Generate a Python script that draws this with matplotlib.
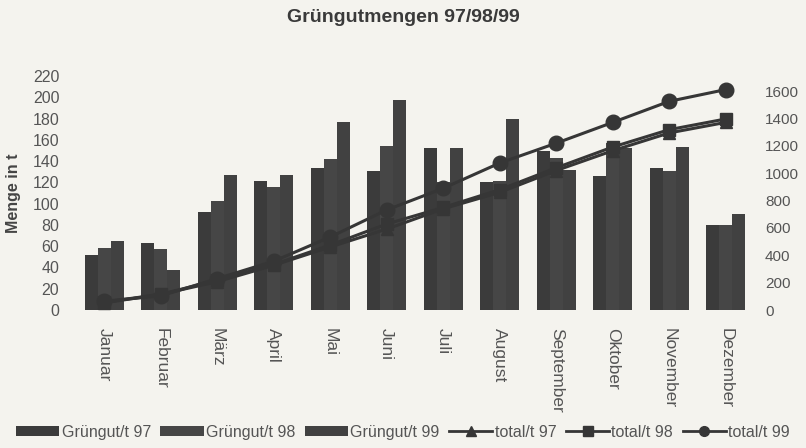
import matplotlib
matplotlib.use("Agg")
import matplotlib.pyplot as plt
import numpy as np
from matplotlib.lines import Line2D
from matplotlib.patches import Patch

months = ["Januar", "Februar", "März", "April", "Mai", "Juni", "Juli",
          "August", "September", "Oktober", "November", "Dezember"]
gruen97 = [52, 63, 92, 121, 134, 131, 152, 120, 150, 126, 134, 80]
gruen98 = [58, 57, 103, 116, 142, 154, 120, 121, 143, 157, 131, 80]
gruen99 = [65, 38, 127, 127, 177, 198, 152, 180, 132, 152, 153, 90]
total97 = [52, 115, 207, 327, 461, 592, 740, 860, 1020, 1165, 1295, 1372]
total98 = [58, 115, 218, 333, 475, 629, 750, 880, 1040, 1192, 1319, 1397]
total99 = [65, 103, 230, 357, 534, 732, 890, 1075, 1220, 1372, 1526, 1612]
left_ticks = list(range(0, 221, 20))
right_ticks = list(range(0, 1601, 200))

plt.rcParams['font.family'] = ['Liberation Sans', 'DejaVu Sans']
bg = '#f4f3ee'
txt = '#555555'
c97, c98, c99 = '#3b3b3b', '#464646', '#414141'
lc = '#363636'

fig = plt.figure(figsize=(8.06, 4.48), dpi=100, facecolor=bg)
ax = fig.add_axes([0.0943, 0.308, 0.8412, 0.522])
ax.set_facecolor('none')

x = np.arange(len(months))
w = 0.23
ax.bar(x - w, gruen97, w, color=c97, zorder=2)
ax.bar(x, gruen98, w, color=c98, zorder=2)
ax.bar(x + w, gruen99, w, color=c99, zorder=2)
ax.set_xlim(-0.5, len(months) - 0.5)
ax.set_ylim(0, 220)
ax.set_yticks(left_ticks)
ax.set_xticks(x)
ax.set_xticklabels(months, rotation=270, fontsize=12.5, color=txt, va='top', ha='center')
ax.tick_params(axis='both', length=0, colors=txt)
ax.tick_params(axis='y', pad=12, labelsize=11.5)
ax.tick_params(axis='x', pad=13)
for s in ax.spines.values():
    s.set_visible(False)
ax.set_ylabel("Menge in t", fontsize=11.5, fontweight='bold', color='#444444', labelpad=8)

ax2 = ax.twinx()
ax2.set_ylim(0, 1710)
ax2.set_yticks(right_ticks)
ax2.tick_params(axis='y', length=0, labelsize=11, colors=txt, pad=8)
for s in ax2.spines.values():
    s.set_visible(False)
ax2.plot(x, total97, color=lc, lw=2.2, marker='^', ms=9, zorder=3)
ax2.plot(x, total98, color=lc, lw=2.2, marker='s', ms=9, zorder=3)
ax2.plot(x, total99, color=lc, lw=2.2, marker='o', ms=10.5, zorder=3)

fig.text(0.500, 0.960, "Grüngutmengen 97/98/99", ha='center', va='center',
         fontsize=14, fontweight='bold', color='#3a3a3a')

handles = [
    Patch(facecolor=c97), Patch(facecolor=c98), Patch(facecolor=c99),
    Line2D([], [], color=lc, lw=2, marker='^', ms=7),
    Line2D([], [], color=lc, lw=2, marker='s', ms=7),
    Line2D([], [], color=lc, lw=2, marker='o', ms=7),
]
labels = ["Grüngut/t 97", "Grüngut/t 98", "Grüngut/t 99", "total/t 97", "total/t 98", "total/t 99"]
leg = fig.legend(handles, labels, loc='center', bbox_to_anchor=(0.5, 0.035), ncol=6,
                 frameon=False, fontsize=11.5, handlelength=2.7, handletextpad=0.15,
                 columnspacing=0.6, labelcolor=txt, handleheight=0.6)

fig.savefig("out.png", dpi=100, facecolor=bg)
